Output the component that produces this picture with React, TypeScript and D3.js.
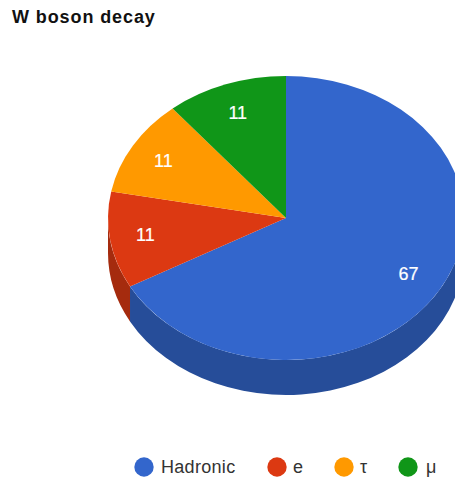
import React from "react";
import * as d3 from "d3";

const categories = ["Hadronic", "e", "τ", "μ"];
const shares = [67, 11, 11, 11];
const topColors = ["#3366cc", "#dc3912", "#ff9900", "#109618"];
const wallColors = ["#264d99", "#a52b0e", "#bf7300", "#0c7012"];
const legendDots = [144, 277, 344, 408];
const legendText = [161, 293, 360, 426];

const WIDTH = 455;
const HEIGHT = 481;
const CX = 286;
const CY = 218;
const RX = 178;
const RY = 142;
const DEPTH = 35;
const FONT = "'Liberation Sans', Arial, sans-serif";

const pie = d3
  .pie<number>()
  .sort(null)
  .startAngle(0)
  .endAngle(2 * Math.PI);
const slices = pie(shares);

// Unit arc, stretched into an ellipse by the enclosing group's transform.
const topArc = d3.arc<d3.PieArcDatum<number>>().innerRadius(0).outerRadius(1);

const px = (a: number) => CX + RX * Math.sin(a);
const py = (a: number) => CY - RY * Math.cos(a);

// Outer wall of a slice, limited to the front half of the ellipse.
function wallPath(start: number, end: number): string | null {
  const a0 = Math.max(start, Math.PI / 2);
  const a1 = Math.min(end, (3 * Math.PI) / 2);
  if (a1 <= a0) return null;
  return (
    `M${px(a0)},${py(a0)}` +
    `A${RX},${RY} 0 0 1 ${px(a1)},${py(a1)}` +
    `L${px(a1)},${py(a1) + DEPTH}` +
    `A${RX},${RY} 0 0 0 ${px(a0)},${py(a0) + DEPTH}Z`
  );
}

export default function App() {
  return (
    <svg
      width={WIDTH}
      height={HEIGHT}
      style={{ position: "absolute", left: 0, top: 0, background: "#fff" }}
    >
      <text x={12} y={23} fontFamily={FONT} fontSize={18} fontWeight="bold" fill="#111" letterSpacing={0.9}>
        W boson decay
      </text>

      {slices.map((s, i) => {
        const d = wallPath(s.startAngle, s.endAngle);
        return d ? <path key={i} d={d} fill={wallColors[i]} /> : null;
      })}

      <g transform={`translate(${CX},${CY}) scale(${RX},${RY})`}>
        {slices.map((s, i) => (
          <path key={i} d={topArc(s) ?? ""} fill={topColors[i]} />
        ))}
      </g>

      {slices.map((s, i) => {
        const mid = (s.startAngle + s.endAngle) / 2;
        return (
          <text
            key={i}
            x={CX + 0.8 * RX * Math.sin(mid)}
            y={CY - 0.78 * RY * Math.cos(mid) + 5.2}
            textAnchor="middle"
            fontFamily={FONT}
            fontSize={18}
            fill="#fff"
            stroke="#fff"
            strokeWidth={0.2}
          >
            {shares[i]}
          </text>
        );
      })}

      {categories.map((c, i) => (
        <g key={c}>
          <circle cx={legendDots[i]} cy={467} r={9.7} fill={topColors[i]} />
          <text x={legendText[i]} y={472.5} fontFamily={FONT} fontSize={18} letterSpacing={0.3} fill="#333">
            {c}
          </text>
        </g>
      ))}
    </svg>
  );
}
